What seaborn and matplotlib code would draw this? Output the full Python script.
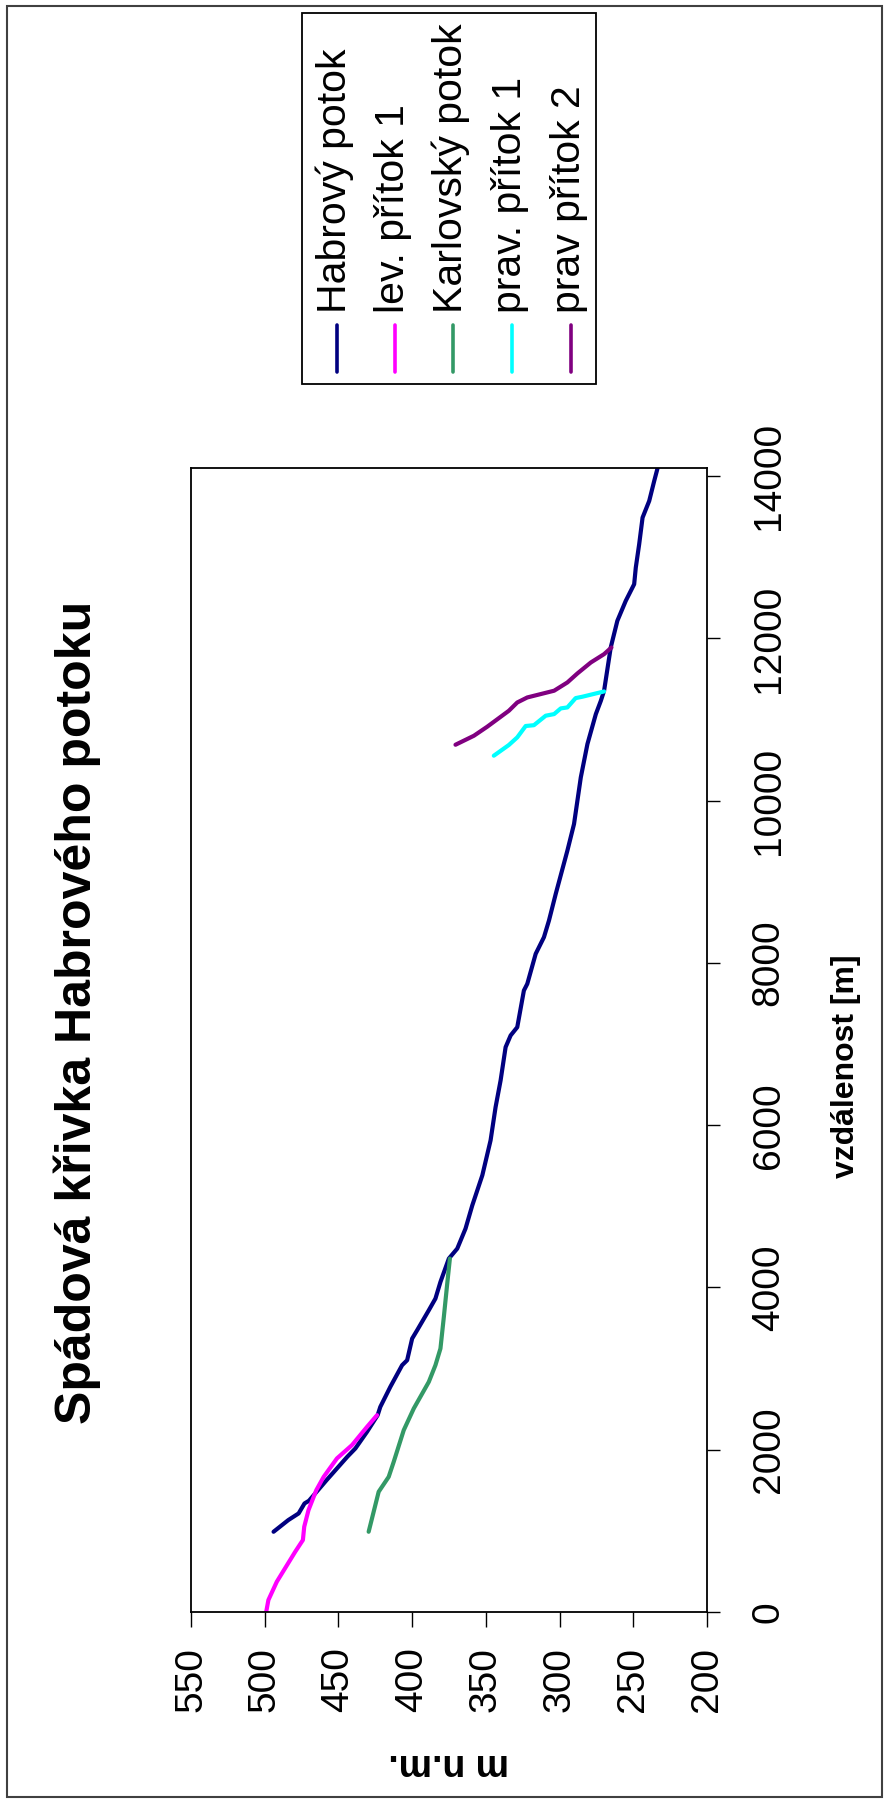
import numpy as np
import pandas as pd
import seaborn as sns
import matplotlib
matplotlib.use('Agg')
import matplotlib.pyplot as plt
from matplotlib.patches import Rectangle
from matplotlib.lines import Line2D

# data: distance [m] and elevation [m n.m.]
habrovy_d = [989, 1133, 1215, 1338, 1371, 1626, 1790, 1913, 2016, 2221, 2426, 2528, 2775,
             3042, 3103, 3370, 3473, 3719, 3863, 4068, 4356, 4479, 4725, 5012, 5382, 5813,
             6223, 6552, 6962, 7106, 7208, 7660, 7742, 8112, 8317, 8522, 8851, 9384, 9712,
             10287, 10698, 11067, 11231, 11355, 11888, 12217, 12463, 12668, 12873, 13161,
             13489, 13694, 13941, 14100]
habrovy_e = [494, 484, 477, 473, 470, 458, 450, 444, 438.5, 430.6, 423.4, 421.6, 414.8,
             406.8, 403.4, 400, 396.6, 388.7, 384.2, 380.8, 375.1, 369.4, 363.8, 359.2, 352.4,
             346.8, 343.4, 340, 336.6, 333.2, 328.7, 324.2, 321.9, 316.2, 310.6, 307.2, 302.6,
             294.7, 290.2, 285.6, 281.1, 275.4, 272, 269.8, 265.3, 260.8, 255.1, 249.4, 248.3,
             246, 243.7, 239.2, 235.8, 233.5]

lev1_d = [0, 148, 373, 743, 887, 1051, 1256, 1502, 1666, 1893, 2057, 2282, 2426]
lev1_e = [499, 497.5, 491.8, 479.3, 474.1, 473.2, 470.3, 465, 460, 451, 440.8, 430.6, 423.8]

karlovsky_d = [989, 1482, 1666, 1851, 2241, 2508, 2836, 3042, 3247, 3637, 4048, 4356]
karlovsky_e = [429.5, 422.7, 415.9, 412.5, 405.7, 398.9, 388.7, 384.2, 380.8, 378.5, 376.2, 374.4]

prav1_d = [10554, 10686, 10780, 10920, 10930, 11047, 11067, 11137, 11149, 11264, 11281, 11346]
prav1_e = [344.6, 334.4, 328.7, 323.0, 317.4, 309.4, 303.7, 299.2, 294.7, 289.1, 284.5, 269.8]

prav2_d = [10689, 10800, 10911, 11108, 11210, 11272, 11355, 11457, 11568, 11703, 11806, 11888]
prav2_e = [370.6, 358.1, 349.1, 334.4, 328.7, 321.9, 303.7, 294.7, 287.9, 278.8, 269.8, 264.8]

names = ['Habrový potok', 'lev. přítok 1', 'Karlovský potok', 'prav. přítok 1', 'prav přítok 2']
colors = ['#000080', '#FF00FF', '#339966', '#00FFFF', '#800080']
x_ticks = [550, 500, 450, 400, 350, 300, 250, 200]
y_ticks = [0, 2000, 4000, 6000, 8000, 10000, 12000, 14000]

dists = [habrovy_d, lev1_d, karlovsky_d, prav1_d, prav2_d]
elevs = [habrovy_e, lev1_e, karlovsky_e, prav1_e, prav2_e]
df = pd.concat([pd.DataFrame({'vzdalenost': d, 'vyska': e, 'tok': n})
                for n, d, e in zip(names, dists, elevs)], ignore_index=True)

sns.set_theme(style='white')
plt.rcParams['font.family'] = ['Liberation Sans', 'DejaVu Sans']

W, H = 886, 1803
def fx(px):
    return px / W
def fy(py):
    return 1 - py / H

fig = plt.figure(figsize=(W / 100, H / 100), dpi=100)
# whole chart is turned on its side: elevation runs left->right, distance bottom->top
ax = fig.add_axes([fx(191), fy(1612), (707 - 191) / W, (1612 - 468) / H])

sns.lineplot(data=df, x='vyska', y='vzdalenost', hue='tok', palette=dict(zip(names, colors)),
             sort=False, estimator=None, legend=False, linewidth=3.0, ax=ax)

ax.set_xlim(550, 200)
ax.set_ylim(0, 14100)
for s in ax.spines.values():
    s.set_color('black')
    s.set_linewidth(1.3)

ax.set_xticks(x_ticks)
ax.set_xticklabels([str(t) for t in x_ticks], rotation=90)
ax.tick_params(axis='x', bottom=True, direction='out', length=10.5, width=1,
               color='black', pad=15, labelsize=28, labelcolor='black')

ax.yaxis.tick_right()
ax.set_yticks(y_ticks)
ax.set_yticklabels([str(t) for t in y_ticks], rotation=90, va='center')
ax.tick_params(axis='y', right=True, left=False, direction='out', length=9.5, width=1,
               color='black', pad=22, labelsize=28, labelcolor='black')

ax.set_xlabel('m n.m.', rotation=180, fontsize=27, fontweight='bold', color='black')
ax.xaxis.label.set_va('center')
ax.xaxis.set_label_coords(0.5, (1612 - 1764) / 1144)

ax.yaxis.set_label_position('right')
ax.set_ylabel('vzdálenost [m]', rotation=90, fontsize=23, fontweight='bold', color='black')
ax.yaxis.label.set_va('center')
ax.yaxis.label.set_ha('center')
ax.yaxis.set_label_coords((846 - 191) / 516, (1612 - 1066) / 1144)

fig.text(fx(77), fy(1012), 'Spádová křivka Habrového potoku', rotation=90,
         ha='center', va='center', fontsize=36, fontweight='bold', color='black')

# legend, drawn by hand so that it can stand on its side too
fig.add_artist(Rectangle((fx(302), fy(384)), (596 - 302) / W, (384 - 13) / H,
                         transform=fig.transFigure, fill=False, ec='black', lw=1.3))
for name, col, xp in zip(names, colors, [337, 395, 453, 512, 571]):
    fig.add_artist(Line2D([fx(xp), fx(xp)], [fy(372), fy(325)], color=col, lw=2.6,
                          transform=fig.transFigure))
    fig.text(fx(xp - 2), fy(313), name, rotation=90, ha='center', va='bottom',
             fontsize=29.5, color='black')

# frame around the whole chart area
fig.add_artist(Rectangle((fx(7), fy(1797)), (882 - 7) / W, (1797 - 6) / H,
                         transform=fig.transFigure, fill=False, ec='#404040', lw=1.5))

fig.savefig('out.png', dpi=100, facecolor='white')
